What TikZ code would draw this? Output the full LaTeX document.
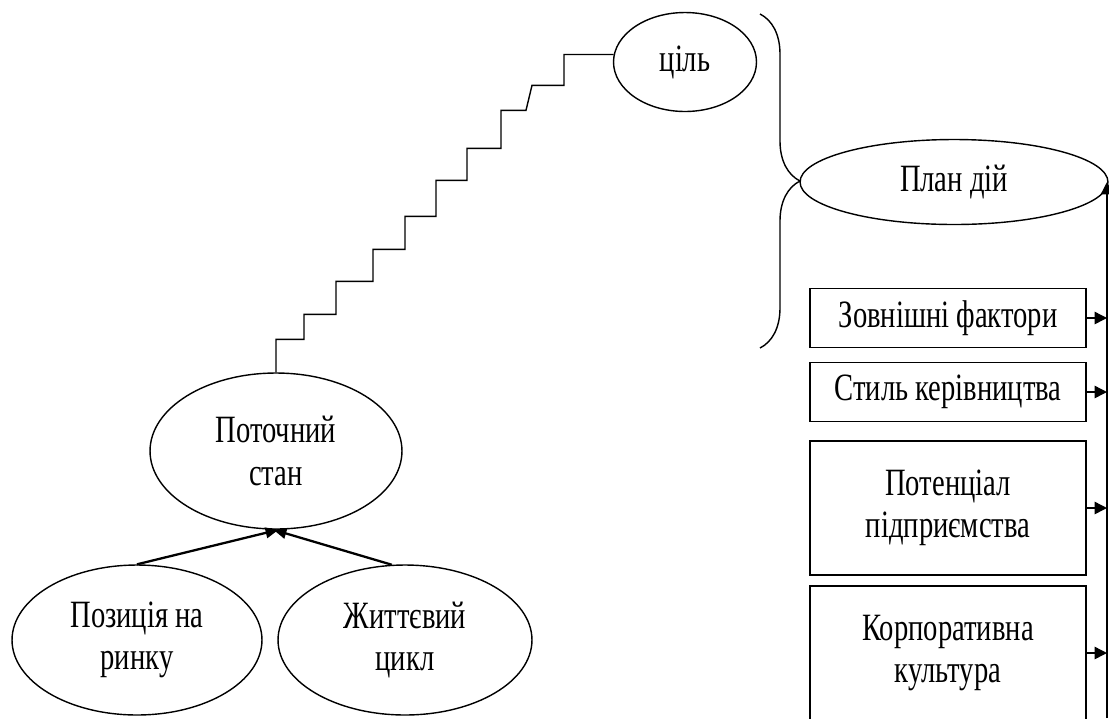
\documentclass[tikz,border=0pt]{standalone}
\usepackage{fontspec}
\setmainfont{Liberation Serif}[FakeStretch=0.74]
\usepackage{tikz}
\usetikzlibrary{shapes.geometric, arrows.meta, decorations.pathreplacing}

\begin{document}
\begin{tikzpicture}[x=0.02cm, y=-0.02cm, font=\fontsize{22}{24}\selectfont,
    oval/.style={draw, ellipse, inner sep=0pt, align=center, line width=0.8pt},
    factor/.style={draw, rectangle, inner sep=0pt, align=center, line width=0.8pt, minimum width=5.52cm},
    arr/.style={-{Triangle[length=7pt, width=7pt]}, line width=0.8pt},
    push/.style={-{Triangle[length=7.5pt, width=6pt]}, line width=1.3pt}]
      \useasboundingbox (0,0) rectangle (1109,718);

      % Ovals
      \node[oval, minimum width=2.86cm, minimum height=1.98cm] (goal) at (685,62) {ціль};
      \node[oval, minimum width=6.16cm, minimum height=1.7cm] (plan) at (954,182) {План дій};
      \node[oval, minimum width=5.04cm, minimum height=3.12cm] (current) at (276,451) {Поточний\\стан};
      \node[oval, minimum width=5cm, minimum height=3cm] (market) at (137,640) {Позиція на\\ринку};
      \node[oval, minimum width=5.08cm, minimum height=3cm] (life) at (405,640) {Життєвий\\цикл};

      % Factor boxes
      \node[factor, minimum height=1.18cm] (ext) at (948,318) {Зовнішні фактори};
      \node[factor, minimum height=1.18cm] (style) at (948,392) {Стиль керівництва};
      \node[factor, minimum height=2.68cm] (potential) at (948,508) {Потенціал\\підприємства};
      \node[factor, minimum height=2.68cm] (culture) at (948,653) {Корпоративна\\культура};

      % Stairs to the goal
      \draw[line width=0.8pt] (current.north) -- ++(0,-33) -- ++(28,0) -- ++(0,-25) -- ++(32,0)
        -- ++(0,-33) -- ++(37,0) -- ++(0,-32) -- ++(32,0) -- ++(0,-33) -- ++(31,0)
        -- ++(0,-36) -- ++(31,0) -- ++(0,-32) -- ++(34,0) -- ++(0,-38) -- ++(25,0)
        -- ++(6,-25) -- ++(32,0) |- (goal.174);

      % Brace
      \coordinate (bracetop) at (760,14);
      \coordinate (bracebot) at (760,348);
      \draw[line width=0.8pt, decorate, decoration={brace, amplitude=0.8cm}] (bracetop) -- (bracebot);

      % Factors feed the plan
      \coordinate (busbot) at (1107,718);
      \draw[arr] (busbot) -- (busbot |- plan.east);
      \draw[arr] (ext.east) -- (ext.east -| busbot);
      \draw[arr] (style.east) -- (style.east -| busbot);
      \draw[arr] (potential.east) -- (potential.east -| busbot);
      \draw[arr] (culture.east) -- (culture.east -| busbot);

      % Inputs of the current state
      \draw[push] (market.north) -- (current.272);
      \draw[push] (life.100) -- (current.268);
    \end{tikzpicture}
\end{document}
